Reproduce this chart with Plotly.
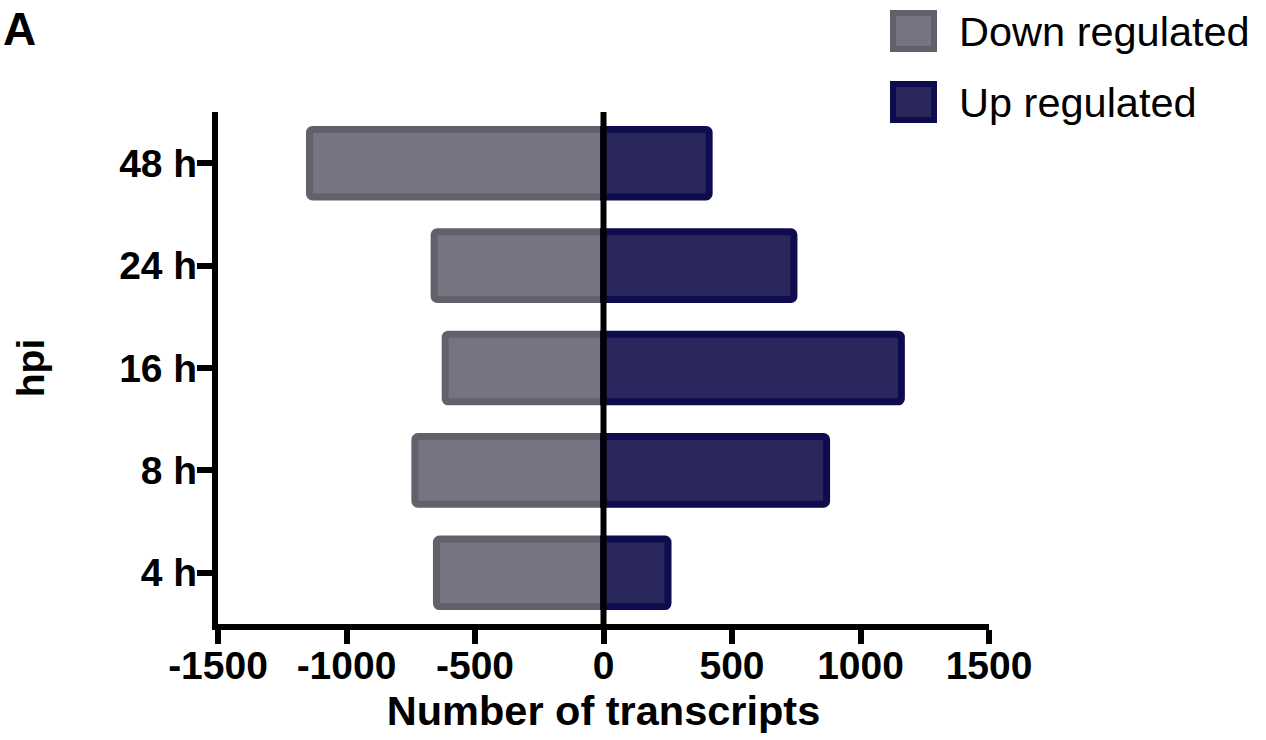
import plotly.graph_objects as go

# Differentially expressed transcripts per time point (hours post infection)
timepoints = ["4 h", "8 h", "16 h", "24 h", "48 h"]
down_regulated = [-650, -734, -616, -659, -1144]
up_regulated = [251, 868, 1159, 741, 411]

x_ticks = [-1500, -1000, -500, 0, 500, 1000, 1500]

W, H = 1266, 740
L, R, T, B = 218, 277, 112, 116

DOWN_FILL, DOWN_EDGE = "rgb(116,117,128)", "rgb(96,97,107)"
UP_FILL, UP_EDGE = "rgb(42,39,93)", "rgb(14,11,78)"
FONT = "Liberation Sans, Arial, sans-serif"


def px(xp):
    return (xp - L) / (W - L - R)


def py(yp):
    return (H - B - yp) / (H - T - B)


fig = go.Figure()
fig.add_trace(go.Bar(
    y=timepoints, x=down_regulated, orientation="h", name="Down regulated",
    width=0.66,
    marker=dict(color=DOWN_FILL, line=dict(color=DOWN_EDGE, width=7), cornerradius=3),
))
fig.add_trace(go.Bar(
    y=timepoints, x=up_regulated, orientation="h", name="Up regulated",
    width=0.66,
    marker=dict(color=UP_FILL, line=dict(color=UP_EDGE, width=7), cornerradius=3),
))

# vertical line at zero drawn over the bars
fig.add_shape(type="line", xref="x", yref="paper", x0=0, x1=0, y0=0, y1=1,
              line=dict(color="black", width=6), layer="above")

# legend swatches and labels
legend_items = [("Down regulated", DOWN_FILL, DOWN_EDGE, 10, 52),
                ("Up regulated", UP_FILL, UP_EDGE, 81, 123)]
for label, fill, edge, top, bottom in legend_items:
    fig.add_shape(type="rect", xref="paper", yref="paper",
                  x0=px(893), x1=px(934), y0=py(bottom - 3), y1=py(top + 3),
                  fillcolor=fill, line=dict(color=edge, width=6), layer="above")
    fig.add_annotation(xref="paper", yref="paper", x=px(957), y=py((top + bottom) / 2),
                       xanchor="left", yanchor="middle", text=label, showarrow=False,
                       font=dict(family=FONT, size=41.5, color="black"))

# panel letter
fig.add_annotation(xref="paper", yref="paper", x=px(1), y=py(1),
                   xanchor="left", yanchor="top", text="A", showarrow=False,
                   font=dict(family=FONT, size=46, color="black", weight=700))

fig.update_layout(
    width=W, height=H,
    margin=dict(l=L, r=R, t=T, b=B),
    barmode="relative",
    showlegend=False,
    plot_bgcolor="white", paper_bgcolor="white",
    font=dict(family=FONT, color="black"),
)
fig.update_xaxes(
    range=[-1500, 1500], tickvals=x_ticks, ticktext=[str(v) for v in x_ticks],
    showgrid=False, zeroline=False,
    showline=True, linecolor="black", linewidth=6,
    ticks="outside", ticklen=14, tickwidth=6, tickcolor="black",
    ticklabelstandoff=-12,
    tickfont=dict(family=FONT, size=39, weight=700),
    title=dict(text="Number of transcripts", standoff=10,
               font=dict(family=FONT, size=41.5, weight=700)),
)
fig.update_yaxes(
    categoryorder="array", categoryarray=timepoints, range=[-0.5, 4.5],
    showgrid=False, zeroline=False,
    showline=True, linecolor="black", linewidth=6,
    ticks="outside", ticklen=15, tickwidth=6, tickcolor="black",
    ticklabelstandoff=-8,
    tickfont=dict(family=FONT, size=39, weight=700),
    title=dict(text="hpi", standoff=65,
               font=dict(family=FONT, size=39, weight=700)),
)

fig.write_html("out.html")
